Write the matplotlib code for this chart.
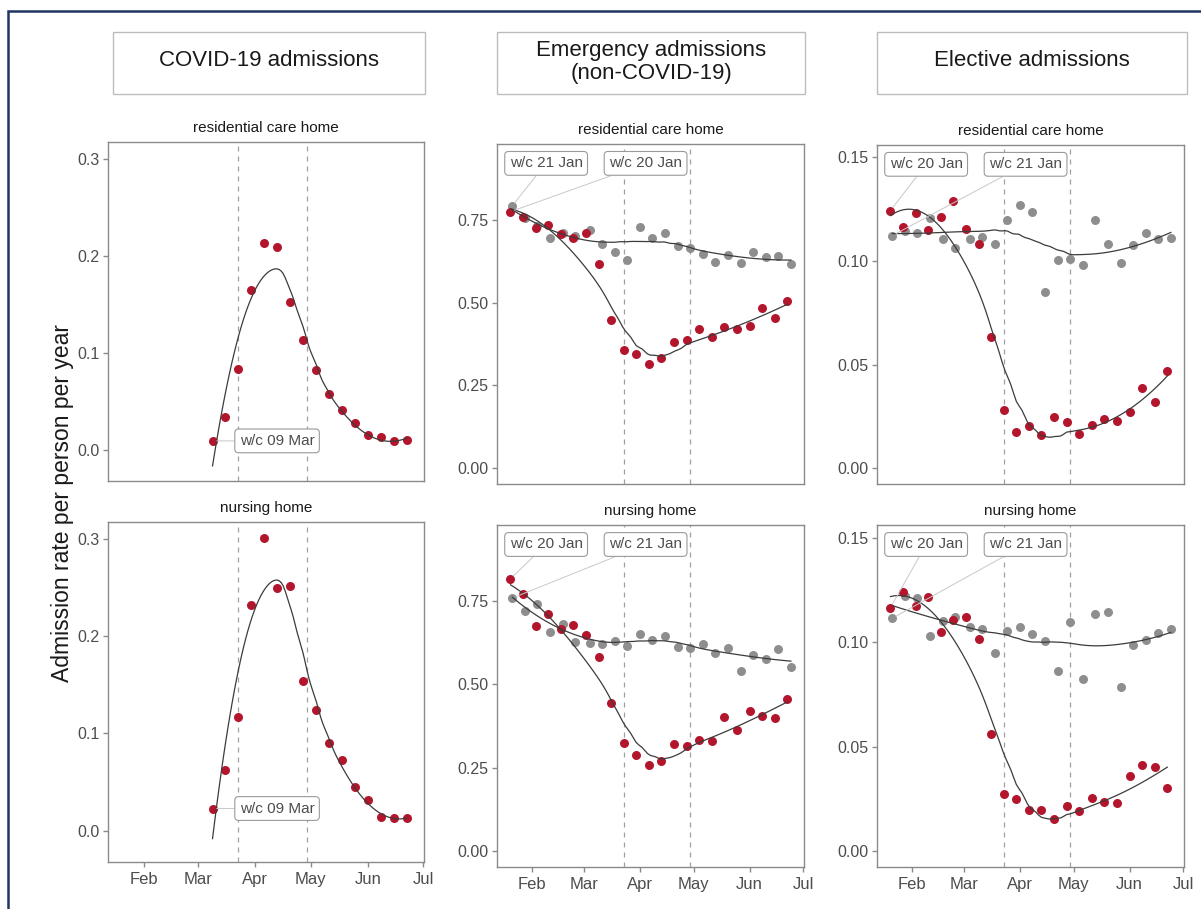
import numpy as np
import datetime as dt
import matplotlib
matplotlib.use("Agg")
import matplotlib.pyplot as plt
import matplotlib.dates as mdates
import matplotlib.transforms as mtransforms
from matplotlib.patches import Rectangle

plt.rcParams['font.family'] = ['Liberation Sans', 'DejaVu Sans']

# ---------------- data ----------------
covid_weeks = ['2020-03-09', '2020-03-16', '2020-03-23', '2020-03-30', '2020-04-06', '2020-04-13',
               '2020-04-20', '2020-04-27', '2020-05-04', '2020-05-11', '2020-05-18', '2020-05-25',
               '2020-06-01', '2020-06-08', '2020-06-15', '2020-06-22']
covid_res = [0.0093, 0.0336, 0.0836, 0.1646, 0.2132, 0.2084, 0.1526, 0.1131, 0.0823, 0.0576,
             0.0411, 0.0274, 0.0154, 0.0130, 0.0096, 0.0103]
covid_nur = [0.0229, 0.0623, 0.1173, 0.2316, 0.3007, 0.2494, 0.2511, 0.1533, 0.1242, 0.0900,
             0.0732, 0.0452, 0.0318, 0.0144, 0.0127, 0.0133]

weeks_2020 = ['2020-01-20', '2020-01-27', '2020-02-03', '2020-02-10', '2020-02-17', '2020-02-24',
              '2020-03-02', '2020-03-09', '2020-03-16', '2020-03-23', '2020-03-30', '2020-04-06',
              '2020-04-13', '2020-04-20', '2020-04-27', '2020-05-04', '2020-05-11', '2020-05-18',
              '2020-05-25', '2020-06-01', '2020-06-08', '2020-06-15', '2020-06-22']
weeks_2019 = ['2019-01-21', '2019-01-28', '2019-02-04', '2019-02-11', '2019-02-18', '2019-02-25',
              '2019-03-04', '2019-03-11', '2019-03-18', '2019-03-25', '2019-04-01', '2019-04-08',
              '2019-04-15', '2019-04-22', '2019-04-29', '2019-05-06', '2019-05-13', '2019-05-20',
              '2019-05-27', '2019-06-03', '2019-06-10', '2019-06-17', '2019-06-24']

emerg_res_2020 = [0.774, 0.759, 0.726, 0.735, 0.706, 0.694, 0.709, 0.615, 0.447, 0.358, 0.346, 0.315,
                  0.334, 0.382, 0.386, 0.420, 0.396, 0.426, 0.420, 0.430, 0.483, 0.453, 0.506]
emerg_res_2019 = [0.792, 0.755, 0.730, 0.694, 0.710, 0.700, 0.720, 0.678, 0.653, 0.628, 0.729, 0.696,
                  0.709, 0.669, 0.665, 0.645, 0.621, 0.643, 0.620, 0.651, 0.636, 0.639, 0.617]
emerg_nur_2020 = [0.817, 0.770, 0.675, 0.711, 0.666, 0.679, 0.647, 0.583, 0.444, 0.325, 0.289, 0.260,
                  0.272, 0.322, 0.315, 0.333, 0.332, 0.404, 0.364, 0.420, 0.405, 0.400, 0.456]
emerg_nur_2019 = [0.759, 0.721, 0.742, 0.658, 0.681, 0.628, 0.625, 0.622, 0.629, 0.615, 0.650, 0.633,
                  0.646, 0.612, 0.608, 0.620, 0.595, 0.609, 0.540, 0.589, 0.577, 0.607, 0.553]
elect_res_2020 = [0.1244, 0.1164, 0.1233, 0.1150, 0.1212, 0.1292, 0.1156, 0.1084, 0.0636, 0.0281, 0.0176,
                  0.0205, 0.0160, 0.0246, 0.0224, 0.0168, 0.0211, 0.0238, 0.0230, 0.0273, 0.0387, 0.0321, 0.0470]
elect_res_2019 = [0.1123, 0.1143, 0.1135, 0.1206, 0.1108, 0.1062, 0.1108, 0.1116, 0.1083, 0.1199, 0.1273,
                  0.1239, 0.0852, 0.1007, 0.1012, 0.0982, 0.1199, 0.1084, 0.0993, 0.1076, 0.1135, 0.1105, 0.1113]
elect_nur_2020 = [0.1165, 0.1241, 0.1173, 0.1218, 0.1050, 0.1106, 0.1122, 0.1013, 0.0559, 0.0273, 0.0252,
                  0.0196, 0.0199, 0.0156, 0.0219, 0.0193, 0.0255, 0.0236, 0.0231, 0.0359, 0.0412, 0.0404, 0.0305]
elect_nur_2019 = [0.1114, 0.1221, 0.1210, 0.1031, 0.1101, 0.1119, 0.1071, 0.1063, 0.0949, 0.1055, 0.1074,
                  0.1039, 0.1007, 0.0862, 0.1098, 0.0822, 0.1135, 0.1146, 0.0787, 0.0986, 0.1010, 0.1045, 0.1061]

lockdown_dates = ['2020-03-23', '2020-04-29']
column_titles = ['COVID-19 admissions', 'Emergency admissions\n(non-COVID-19)', 'Elective admissions']
facet_titles = ['residential care home', 'nursing home']
y_label = 'Admission rate per person per year'

# ---------------- helpers ----------------
def to_num(dates, year=None):
    out = []
    for d in dates:
        t = dt.datetime.strptime(d, '%Y-%m-%d')
        if year is not None:
            t = t.replace(year=year)
        out.append(mdates.date2num(t))
    return np.array(out)


def loess(x, y, span=0.75, n=100):
    x = np.asarray(x, float)
    y = np.asarray(y, float)
    N = len(x)
    q = max(int(np.floor(span * N)), 3)
    xs = np.linspace(x.min(), x.max(), n)
    fit = []
    for x0 in xs:
        d = np.abs(x - x0)
        h = np.sort(d)[q - 1] * 1.0001
        u = np.clip(d / h, 0, 1)
        w = (1 - u ** 3) ** 3
        X = np.vstack([np.ones(N), x - x0, (x - x0) ** 2]).T
        sw = np.sqrt(w)
        beta = np.linalg.lstsq(X * sw[:, None], y * sw, rcond=None)[0]
        fit.append(beta[0])
    return xs, np.array(fit)


W, H = 1201, 909
RED = '#b3152c'
GREY = '#8e8e8e'
LINE = '#3c3c3c'
SPINE = '#8a8a8a'
TXT = '#4d4d4d'
PT = 42

fig = plt.figure(figsize=(W / 100, H / 100), dpi=100)
fig.patch.set_facecolor('white')


def add_ax(x0, x1, ytop, ybot):
    return fig.add_axes([x0 / W, 1 - ybot / H, (x1 - x0) / W, (ybot - ytop) / H])


xlim = (mdates.date2num(dt.datetime(2020, 1, 12, 12)), mdates.date2num(dt.datetime(2020, 7, 1, 7)))
month_ticks = [mdates.date2num(dt.datetime(2020, m, 1)) for m in range(2, 8)]

cols = [
    dict(x0=108, x1=424, rows=[(142, 481), (522, 862)], ylim=(-0.032, 0.317),
         yticks=[0.0, 0.1, 0.2, 0.3], fmt='{:.1f}'),
    dict(x0=497, x1=804, rows=[(144, 484), (525, 867)], ylim=(-0.047, 0.978),
         yticks=[0.0, 0.25, 0.5, 0.75], fmt='{:.2f}'),
    dict(x0=877, x1=1184, rows=[(145, 484), (525, 867)], ylim=(-0.0075, 0.156),
         yticks=[0.0, 0.05, 0.10, 0.15], fmt='{:.2f}'),
]

x_covid = to_num(covid_weeks)
x_2020 = to_num(weeks_2020)
x_2019 = to_num(weeks_2019, year=2020)
vlines = to_num(lockdown_dates)

series = [
    [(None, covid_res), (None, covid_nur)],
    [(emerg_res_2019, emerg_res_2020), (emerg_nur_2019, emerg_nur_2020)],
    [(elect_res_2019, elect_res_2020), (elect_nur_2019, elect_nur_2020)],
]
# which label (left, right) belongs to which series: 'g' = 2019 grey, 'r' = 2020 red
label_sides = [
    None,
    [('g', 'r'), ('r', 'g')],
    [('r', 'g'), ('r', 'g')],
]

bbox_style = dict(boxstyle='round,pad=0.32,rounding_size=0.25', fc='white', ec='#9a9a9a', lw=0.8)
arrow_style = dict(arrowstyle='-', color='#c8c8c8', lw=0.7, shrinkA=0, shrinkB=3)

for ci, col in enumerate(cols):
    for ri, (ytop, ybot) in enumerate(col['rows']):
        ax = add_ax(col['x0'], col['x1'], ytop, ybot)
        ax.set_facecolor('white')
        ax.set_xlim(*xlim)
        ax.set_ylim(*col['ylim'])
        for s in ax.spines.values():
            s.set_color(SPINE)
            s.set_linewidth(1.0)
        ax.set_yticks(col['yticks'])
        ax.set_yticklabels([col['fmt'].format(v) for v in col['yticks']])
        ax.tick_params(axis='both', colors=SPINE, labelcolor=TXT, labelsize=11.5,
                       length=3.5, width=1.0, pad=2.5)
        if ri == 1:
            ax.set_xticks(month_ticks)
            ax.xaxis.set_major_formatter(mdates.DateFormatter('%b'))
            ax.tick_params(axis='x', labelsize=12, pad=4)
        else:
            ax.set_xticks([])
        for v in vlines:
            ax.axvline(v, color='#a0a0a0', lw=0.9, ls=(0, (4, 4)), zorder=1)
        ax.annotate(facet_titles[ri], xy=(0.5, 1.0), xycoords='axes fraction',
                    xytext=(0, 10), textcoords='offset points', ha='center', va='center',
                    fontsize=11, color='#1a1a1a')

        grey_vals, red_vals = series[ci][ri]
        if ci == 0:
            ax.scatter(x_covid, red_vals, s=PT, color=RED, linewidths=0, zorder=3)
            xs, ys = loess(x_covid, red_vals, span=0.75)
            ax.plot(xs, ys, color=LINE, lw=0.9, zorder=4)
            tr = mtransforms.blended_transform_factory(ax.transAxes, ax.transData)
            ax.annotate('w/c 09 Mar', xy=(x_covid[0], red_vals[0]), xycoords='data',
                        xytext=(0.535, red_vals[0]), textcoords=tr, ha='center', va='center',
                        fontsize=11, color=TXT, bbox=bbox_style, arrowprops=arrow_style, zorder=5)
        else:
            ax.scatter(x_2019, grey_vals, s=PT, color=GREY, linewidths=0, zorder=2)
            ax.scatter(x_2020, red_vals, s=PT, color=RED, linewidths=0, zorder=3)
            xs, ys = loess(x_2019, grey_vals, span=0.75)
            ax.plot(xs, ys, color=LINE, lw=0.9, zorder=4)
            xs, ys = loess(x_2020, red_vals, span=0.75)
            ax.plot(xs, ys, color=LINE, lw=0.9, zorder=4)
            first = {'g': (x_2019[0], grey_vals[0], 'w/c 21 Jan'),
                     'r': (x_2020[0], red_vals[0], 'w/c 20 Jan')}
            for side, fx in zip(label_sides[ci][ri], (0.16, 0.484)):
                px, py, txt = first[side]
                ax.annotate(txt, xy=(px, py), xycoords='data', xytext=(fx, 0.943),
                            textcoords='axes fraction', ha='center', va='center',
                            fontsize=11, color=TXT, bbox=bbox_style,
                            arrowprops=arrow_style, zorder=5)

# column title boxes
title_boxes = [(113, 425), (497, 805), (877, 1187)]
title_y = [61, 62, 61]
for (bx0, bx1), title, ty in zip(title_boxes, column_titles, title_y):
    r = Rectangle((bx0 / W, 1 - 94 / H), (bx1 - bx0) / W, 62 / H, transform=fig.transFigure,
                  fc='white', ec='#bdbdbd', lw=1.0)
    fig.patches.append(r)
    fig.text((bx0 + bx1) / 2 / W, 1 - ty / H, title, ha='center', va='center',
             fontsize=16, color='#1a1a1a', linespacing=1.12)

fig.text(63 / W, 1 - 503 / H, y_label, rotation=90, ha='center', va='center',
         fontsize=16.5, color='#1a1a1a')

# outer navy frame
frame = Rectangle((8 / W, -0.1), 1.2, (909 - 11) / H + 0.1, transform=fig.transFigure,
                  fc='none', ec='#1f3564', lw=1.8)
fig.patches.append(frame)

fig.savefig('out.png', dpi=100, facecolor='white')
